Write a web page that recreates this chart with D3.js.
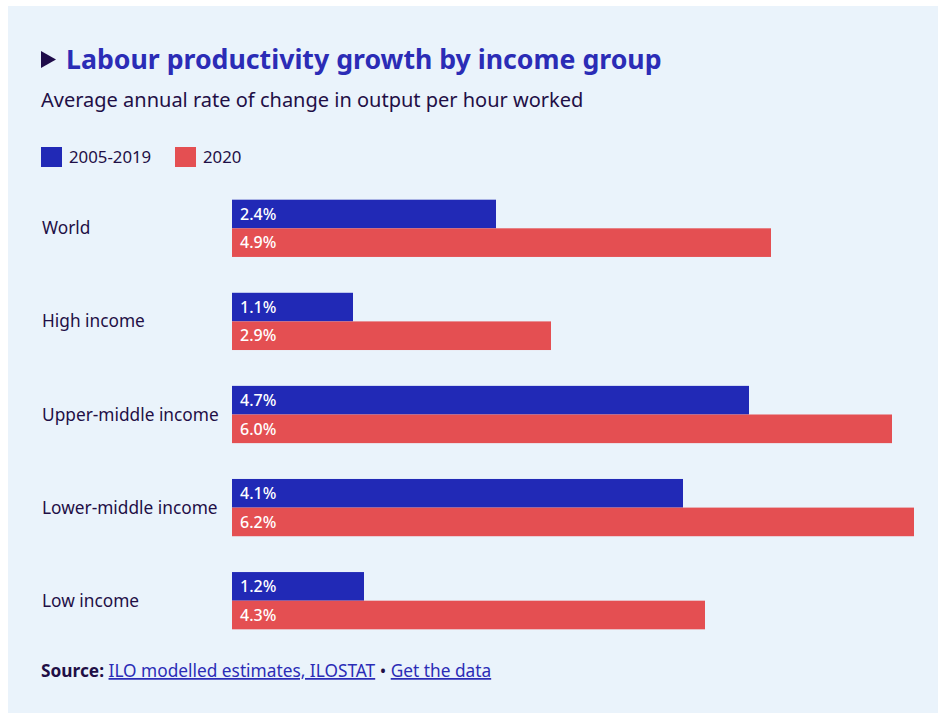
<!DOCTYPE html>
<html>
<head>
<meta charset="utf-8">
<script src="https://cdn.jsdelivr.net/npm/d3@7/dist/d3.min.js"></script>
<style>
  html, body { margin: 0; padding: 0; background: #ffffff; }
  svg { display: block; }
  text { font-family: "Noto Sans", "Open Sans", sans-serif; }
</style>
</head>
<body>
<svg id="chart" width="938" height="713"></svg>
<script>
// Labour productivity growth, % per year
const categories = ["World", "High income", "Upper-middle income", "Lower-middle income", "Low income"];
const seriesNames = ["2005-2019", "2020"];
const values2005_2019 = [2.4, 1.1, 4.7, 4.1, 1.2];
const values2020 = [4.9, 2.9, 6.0, 6.2, 4.3];
const colors = ["#2129b6", "#e44f52"];

const svg = d3.select("#chart");
const W = 938, H = 713;

// panel background
svg.append("rect")
  .attr("x", 8).attr("y", 6).attr("width", W - 8).attr("height", H - 6)
  .attr("fill", "#eaf3fb");

// title with arrow marker
svg.append("path")
  .attr("d", "M41,51 L56,59.5 L41,68 Z")
  .attr("fill", "#1f0c4a");
svg.append("text")
  .attr("x", 66).attr("y", 69)
  .attr("font-size", 26.7).attr("font-weight", 700)
  .attr("fill", "#2b2cb6")
  .text("Labour productivity growth by income group");

svg.append("text")
  .attr("x", 41).attr("y", 107)
  .attr("font-size", 20)
  .attr("fill", "#1f0f46")
  .text("Average annual rate of change in output per hour worked");

// legend
const legend = svg.append("g").attr("transform", "translate(41,147)");
const legendX = [0, 134];
seriesNames.forEach((name, i) => {
  const g = legend.append("g").attr("transform", `translate(${legendX[i]},0)`);
  g.append("rect").attr("width", 21).attr("height", 20).attr("fill", colors[i]);
  g.append("text").attr("x", 28).attr("y", 16)
    .attr("font-size", 16.8).attr("fill", "#1f0f46").text(name);
});

// scales
const x = d3.scaleLinear().domain([0, 6.2]).range([232, 914]);
const y0 = d3.scaleBand().domain(categories).range([182, 647]).paddingInner(0.385).paddingOuter(0.19);
const y1 = d3.scaleBand().domain(seriesNames).range([0, y0.bandwidth()]);

const rows = categories.map((c, i) => ({
  category: c,
  values: [values2005_2019[i], values2020[i]]
}));

const groups = svg.selectAll("g.row").data(rows).join("g")
  .attr("class", "row")
  .attr("transform", d => `translate(0,${y0(d.category)})`);

groups.append("text")
  .attr("x", 42)
  .attr("y", y0.bandwidth() / 2)
  .attr("dy", "0.35em")
  .attr("font-size", 17.3)
  .attr("fill", "#1f0f46")
  .text(d => d.category);

const bars = groups.selectAll("g.bar")
  .data(d => d.values.map((v, i) => ({ series: seriesNames[i], value: v, i })))
  .join("g").attr("class", "bar");

bars.append("rect")
  .attr("x", x(0))
  .attr("y", d => y1(d.series))
  .attr("width", d => x(d.value) - x(0))
  .attr("height", y1.bandwidth())
  .attr("fill", d => colors[d.i]);

bars.append("text")
  .attr("x", x(0) + 8)
  .attr("y", d => y1(d.series) + y1.bandwidth() / 2)
  .attr("dy", "0.36em")
  .attr("font-size", 16)
  .attr("font-weight", 500)
  .attr("fill", "#ffffff")
  .text(d => d.value.toFixed(1) + "%");

// source line
const src = svg.append("text").attr("x", 41).attr("y", 677).attr("font-size", 17.3).attr("fill", "#1f0f46");
src.append("tspan").attr("font-weight", 700).text("Source: ");
src.append("tspan").attr("fill", "#2b2cb6").attr("text-decoration", "underline").text("ILO modelled estimates, ILOSTAT");
src.append("tspan").text(" \u2022 ");
src.append("tspan").attr("fill", "#2b2cb6").attr("text-decoration", "underline").text("Get the data");
</script>
</body>
</html>
